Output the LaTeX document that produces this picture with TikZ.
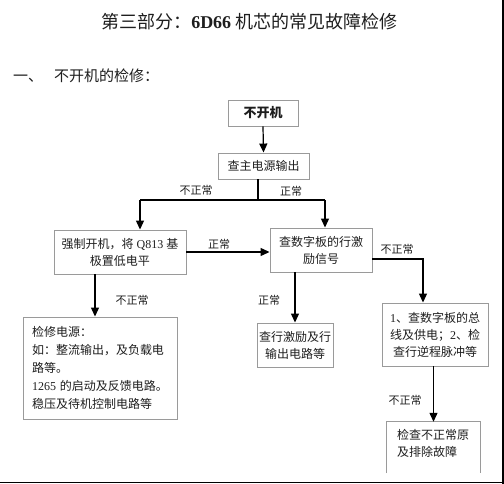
\documentclass[tikz,border=0pt]{standalone}
\usepackage{fontspec}
\setmainfont{Liberation Serif}
\newfontfamily\cjk{Noto Sans CJK SC}
\usetikzlibrary{arrows.meta}
\definecolor{boxgray}{HTML}{9A9A9A}
\definecolor{txt}{HTML}{1E1E1E}
\begin{document}
\begin{tikzpicture}[x=1pt,y=-1pt,
  box/.style={draw=boxgray, line width=0.9pt, inner sep=0pt, align=center,
    text=txt, font=\fontsize{12}{17}\selectfont},
  conn/.style={line width=1.2pt, draw=black},
  arr/.style={conn, -{Triangle[length=9pt,width=8pt]}},
  lbl/.style={font=\fontsize{11}{13}\selectfont\cjk, inner sep=0pt, text=txt}]
\useasboundingbox (0,0) rectangle (504,484);
\fill[white] (0,0) rectangle (504,484);
% page edges
\draw[line width=1.6pt] (503,0) -- (503,484);
\draw[line width=1.6pt] (0,482.5) -- (504,482.5);

% title and heading
\node[inner sep=0pt, text=txt] (title) at (249.5,22)
  {\fontsize{18}{20}\selectfont{\cjk 第三部分：}\textbf{6D66} {\cjk 机芯的常见故障检修}};
\node[inner sep=0pt, anchor=west, text=txt] (head) at (13,76)
  {\fontsize{15}{17}\selectfont{\cjk 一、}\hspace{11pt}{\cjk 不开机的检修：}};

% boxes
\node[box, minimum width=70pt, minimum height=26pt, font=\fontsize{13}{15}\selectfont\cjk\bfseries] (b1) at (263,113) {不开机};
\node[box, minimum width=91pt, minimum height=26pt] (b2) at (263.5,166) {\cjk 查主电源输出};
\node[box, minimum width=132pt, minimum height=44pt] (b3) at (120,252)
  {{\cjk 强制开机，将} Q813 {\cjk 基}\\{\cjk 极置低电平}};
\node[box, minimum width=102pt, minimum height=44pt] (b4) at (321,250)
  {{\cjk 查数字板的行激}\\{\cjk 励信号}};
\node[box, minimum width=154pt, minimum height=102pt, text width=136pt, align=left,
      font=\fontsize{12}{18}\selectfont] (b5) at (100,368)
  {{\cjk 检修电源：}\\
   {\cjk 如：整流输出，及负载电}\\
   {\cjk 路等。}\\
   1265 {\cjk 的启动及反馈电路。}\\
   {\cjk 稳压及待机控制电路等}};
\node[box, minimum width=106pt, minimum height=63pt, font=\fontsize{12}{17}\selectfont] (b6) at (435,334.5)
  {1{\cjk 、查数字板的总}\\{\cjk 线及供电；}2{\cjk 、检}\\{\cjk 查行逆程脉冲等}};
\node[box, minimum width=76pt, minimum height=44pt] (b7) at (295,345)
  {{\cjk 查行激励及行}\\{\cjk 输出电路等}};
\node[inner sep=0pt, minimum width=93pt, minimum height=51pt, text=txt] (b8) at (433.5,447.5) {};
\draw[draw=boxgray, line width=0.9pt] (b8.south west) -- (b8.north west) -- (b8.north east) -- (b8.south east);
\node[inner sep=0pt, text width=73pt, align=left, text=txt, font=\fontsize{12}{17}\selectfont\cjk, anchor=north west]
  (b8t) at (397,429) {检查不正常原\\及排除故障};

% connectors
\coordinate (j1) at (258,200);
\coordinate (jl) at (140,200);
\coordinate (jr) at (325,200);
\coordinate (c1) at (423,259);
\coordinate (c2) at (95,300);
\draw[arr] (b1.south) -- (b2.north);
\draw[conn] (b2.south -| j1) -- (j1);
\draw[conn] (jl) -- (jr);
\draw[arr] (jl) -- (jl |- b3.north);
\draw[arr] (jr) -- (jr |- b4.north);
\draw[arr] (b3.east) -- (b3.east -| b4.west);
\draw[arr] (b4.east |- c1) -- (c1) -- (c1 |- b6.north);
\draw[arr] (b3.south -| c2) -- (c2 |- b5.north);
\draw[arr] (b4.south -| b7.north) -- (b7.north);
\draw[arr] (b6.south -| b8.north) -- (b8.north);

% labels
\node[lbl] (l1) at (196,190) {不正常};
\node[lbl] (l2) at (291,191) {正常};
\node[lbl] (l3) at (219,244) {正常};
\node[lbl] (l4) at (397,249) {不正常};
\node[lbl] (l5) at (132,300) {不正常};
\node[lbl] (l6) at (269,300) {正常};
\node[lbl] (l7) at (405,400) {不正常};
\end{tikzpicture}
\end{document}
